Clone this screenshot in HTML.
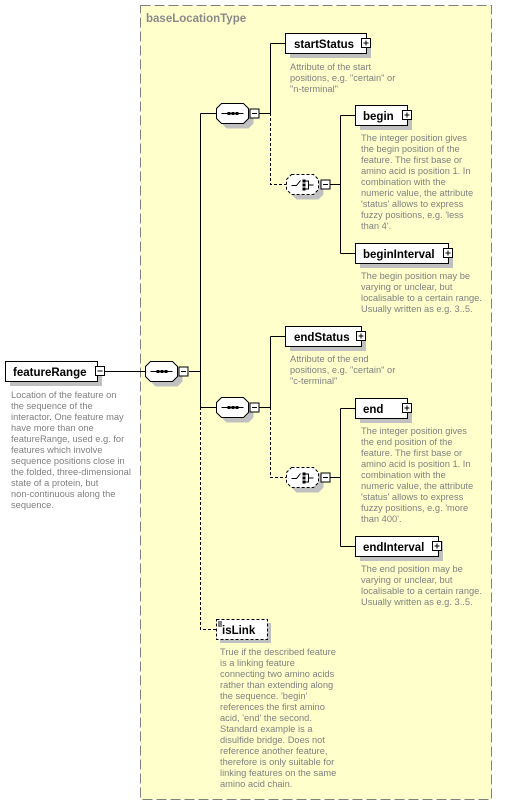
<!DOCTYPE html>
<html><head><meta charset="utf-8"><style>
html,body{margin:0;padding:0;background:#fff;width:510px;height:806px;overflow:hidden}
svg{display:block}
.t{font-family:"Liberation Sans",sans-serif;font-weight:bold;font-size:11.5px;fill:#000}
.d{font-family:"Liberation Sans",sans-serif;font-size:9.3px;fill:#808080}
.h{font-family:"Liberation Sans",sans-serif;font-weight:bold;font-size:11.5px;fill:#8a8a8a}
</style></head><body>
<svg width="510" height="806" viewBox="0 0 510 806" xmlns="http://www.w3.org/2000/svg">
<defs>
<g id="oct">
 <polygon points="5,0 27,0 32,5 32,15 27,20 5,20 0,15 0,5" fill="#c0c0c0" transform="translate(5,5)"/>
 <polygon points="5,0 27,0 32,5 32,15 27,20 5,20 0,15 0,5" fill="#fff" stroke="#000"/>
 <line x1="5" y1="10" x2="27" y2="10" stroke="#000"/>
 <rect x="11" y="8.5" width="3" height="3" fill="#000"/><rect x="15" y="8.5" width="3" height="3" fill="#000"/><rect x="19" y="8.5" width="3" height="3" fill="#000"/>
 <rect x="33.5" y="5.5" width="9" height="9" fill="#fff" stroke="#000"/>
 <line x1="35.5" y1="10" x2="40.5" y2="10" stroke="#000"/>
</g>
<g id="cho">
 <polygon points="5,0 27,0 32,5 32,15 27,20 5,20 0,15 0,5" fill="#c0c0c0" transform="translate(5,5)"/>
 <polygon points="5,0 27,0 32,5 32,15 27,20 5,20 0,15 0,5" fill="#fff" stroke="#000" stroke-dasharray="3,2"/>
 <polyline points="5,11 10,11 14,6" fill="none" stroke="#000"/>
 <rect x="16" y="5" width="3" height="3" fill="#000"/><rect x="16" y="9" width="3" height="3" fill="#000"/><rect x="16" y="13" width="3" height="3" fill="#000"/>
 <polyline points="19,6.5 22,6.5 22,14.5 19,14.5" fill="none" stroke="#000"/>
 <line x1="22" y1="10.5" x2="27" y2="10.5" stroke="#000"/>
 <rect x="34.5" y="5.5" width="9" height="9" fill="#fff" stroke="#000"/>
 <line x1="36.5" y1="10" x2="41.5" y2="10" stroke="#000"/>
</g>
</defs>
<rect x="140.5" y="5.5" width="351" height="794" fill="#ffffcc" stroke="#808080" stroke-dasharray="10,4"/>
<text class="h" x="146" y="22">baseLocationType</text>

<g stroke="#000" fill="none">
 <line x1="104" y1="371.5" x2="145" y2="371.5"/>
 <line x1="189" y1="371.5" x2="200.5" y2="371.5"/>
 <line x1="200.5" y1="113.5" x2="200.5" y2="407.5"/>
 <line x1="200.5" y1="113.5" x2="216" y2="113.5"/>
 <line x1="200.5" y1="407.5" x2="216" y2="407.5"/>
 <line x1="258" y1="113.5" x2="270.5" y2="113.5"/>
 <line x1="270.5" y1="43.5" x2="270.5" y2="113.5"/>
 <line x1="270.5" y1="43.5" x2="285" y2="43.5"/>
 <line x1="329" y1="184.5" x2="340.5" y2="184.5"/>
 <line x1="340.5" y1="115.5" x2="340.5" y2="253.5"/>
 <line x1="340.5" y1="115.5" x2="355" y2="115.5"/>
 <line x1="340.5" y1="253.5" x2="355" y2="253.5"/>
 <line x1="258" y1="407.5" x2="270.5" y2="407.5"/>
 <line x1="270.5" y1="336.5" x2="270.5" y2="407.5"/>
 <line x1="270.5" y1="336.5" x2="285" y2="336.5"/>
 <line x1="329" y1="477.5" x2="340.5" y2="477.5"/>
 <line x1="340.5" y1="408.5" x2="340.5" y2="546.5"/>
 <line x1="340.5" y1="408.5" x2="355" y2="408.5"/>
 <line x1="340.5" y1="546.5" x2="355" y2="546.5"/>
</g>
<g stroke="#000" fill="none" stroke-dasharray="3,2">
 <polyline points="200.5,407 200.5,629.5 216,629.5"/>
 <polyline points="270.5,113 270.5,184.5 286,184.5"/>
 <polyline points="270.5,407 270.5,477.5 286,477.5"/>
</g>

<rect x="10" y="366" width="92" height="20" fill="#c0c0c0"/>
<rect x="5.5" y="361.5" width="92" height="20" fill="#fff" stroke="#000"/>
<text class="t" x="13" y="376">featureRange</text>
<rect x="95.5" y="366.5" width="9" height="9" fill="#fff" stroke="#000"/>
<line x1="97.5" y1="371" x2="102.5" y2="371" stroke="#000"/>
<g class="d"><text x="11" y="398">Location of the feature on</text><text x="11" y="409">the sequence of the</text><text x="11" y="420">interactor. One feature may</text><text x="11" y="431">have more than one</text><text x="11" y="442">featureRange, used e.g. for</text><text x="11" y="453">features which involve</text><text x="11" y="464">sequence positions close in</text><text x="11" y="475">the folded, three-dimensional</text><text x="11" y="486">state of a protein, but</text><text x="11" y="497">non-continuous along the</text><text x="11" y="508">sequence.</text></g>

<use href="#oct" x="145.5" y="361.5"/>
<use href="#oct" x="216.5" y="103.5"/>
<use href="#oct" x="216.5" y="397.5"/>
<use href="#cho" x="286.5" y="174.5"/>
<use href="#cho" x="286.5" y="467.5"/>

<g>
 <rect x="290" y="38" width="81" height="20" fill="#c0c0c0"/><rect x="285.5" y="33.5" width="81" height="20" fill="#fff" stroke="#000"/>
 <text class="t" x="294" y="48">startStatus</text>
 <rect x="361.5" y="38.5" width="9" height="9" fill="#fff" stroke="#000"/><path d="M363.5 43h5M366 40.5v5" stroke="#000"/>
 <g class="d"><text x="290" y="70">Attribute of the start</text><text x="290" y="81">positions, e.g. "certain" or</text><text x="290" y="92">"n-terminal"</text></g>

 <rect x="360" y="110" width="52" height="20" fill="#c0c0c0"/><rect x="355.5" y="105.5" width="52" height="20" fill="#fff" stroke="#000"/>
 <text class="t" x="363" y="120">begin</text>
 <rect x="402.5" y="110.5" width="9" height="9" fill="#fff" stroke="#000"/><path d="M404.5 115h5M407 112.5v5" stroke="#000"/>
 <g class="d"><text x="361" y="141">The integer position gives</text><text x="361" y="152">the begin position of the</text><text x="361" y="163">feature. The first base or</text><text x="361" y="174">amino acid is position 1. In</text><text x="361" y="185">combination with the</text><text x="361" y="196">numeric value, the attribute</text><text x="361" y="207">'status' allows to express</text><text x="361" y="218">fuzzy positions, e.g. 'less</text><text x="361" y="229">than 4'.</text></g>

 <rect x="360" y="248" width="93" height="20" fill="#c0c0c0"/><rect x="355.5" y="243.5" width="93" height="20" fill="#fff" stroke="#000"/>
 <text class="t" x="363" y="258">beginInterval</text>
 <rect x="443.5" y="248.5" width="9" height="9" fill="#fff" stroke="#000"/><path d="M445.5 253h5M448 250.5v5" stroke="#000"/>
 <g class="d"><text x="361" y="279">The begin position may be</text><text x="361" y="290">varying or unclear, but</text><text x="361" y="301">localisable to a certain range.</text><text x="361" y="312">Usually written as e.g. 3..5.</text></g>

 <rect x="290" y="331" width="76" height="20" fill="#c0c0c0"/><rect x="285.5" y="326.5" width="76" height="20" fill="#fff" stroke="#000"/>
 <text class="t" x="294" y="341">endStatus</text>
 <rect x="356.5" y="331.5" width="9" height="9" fill="#fff" stroke="#000"/><path d="M358.5 336h5M361 333.5v5" stroke="#000"/>
 <g class="d"><text x="290" y="362">Attribute of the end</text><text x="290" y="373">positions, e.g. "certain" or</text><text x="290" y="384">"c-terminal"</text></g>

 <rect x="360" y="403" width="52" height="20" fill="#c0c0c0"/><rect x="355.5" y="398.5" width="52" height="20" fill="#fff" stroke="#000"/>
 <text class="t" x="363" y="413">end</text>
 <rect x="402.5" y="403.5" width="9" height="9" fill="#fff" stroke="#000"/><path d="M404.5 408h5M407 405.5v5" stroke="#000"/>
 <g class="d"><text x="361" y="434">The integer position gives</text><text x="361" y="445">the end position of the</text><text x="361" y="456">feature. The first base or</text><text x="361" y="467">amino acid is position 1. In</text><text x="361" y="478">combination with the</text><text x="361" y="489">numeric value, the attribute</text><text x="361" y="500">'status' allows to express</text><text x="361" y="511">fuzzy positions, e.g. 'more</text><text x="361" y="522">than 400'.</text></g>

 <rect x="360" y="541" width="83" height="20" fill="#c0c0c0"/><rect x="355.5" y="536.5" width="83" height="20" fill="#fff" stroke="#000"/>
 <text class="t" x="363" y="551">endInterval</text>
 <rect x="432.5" y="541.5" width="9" height="9" fill="#fff" stroke="#000"/><path d="M434.5 546h5M437 543.5v5" stroke="#000"/>
 <g class="d"><text x="361" y="572">The end position may be</text><text x="361" y="583">varying or unclear, but</text><text x="361" y="594">localisable to a certain range.</text><text x="361" y="605">Usually written as e.g. 3..5.</text></g>

 <rect x="220" y="623" width="51" height="20" fill="#c0c0c0"/><rect x="216.5" y="619.5" width="51" height="20" fill="#fff" stroke="#000" stroke-dasharray="3,2"/>
 <path d="M218 622h4M218 624h4M218 626h4" stroke="#000"/>
 <text class="t" x="222" y="634">isLink</text>
 <g class="d"><text x="220" y="655">True if the described feature</text><text x="220" y="666">is a linking feature</text><text x="220" y="677">connecting two amino acids</text><text x="220" y="688">rather than extending along</text><text x="220" y="699">the sequence. 'begin'</text><text x="220" y="710">references the first amino</text><text x="220" y="721">acid, 'end' the second.</text><text x="220" y="732">Standard example is a</text><text x="220" y="743">disulfide bridge. Does not</text><text x="220" y="754">reference another feature,</text><text x="220" y="765">therefore is only suitable for</text><text x="220" y="776">linking features on the same</text><text x="220" y="787">amino acid chain.</text></g>
</g>
</svg>
</body></html>
